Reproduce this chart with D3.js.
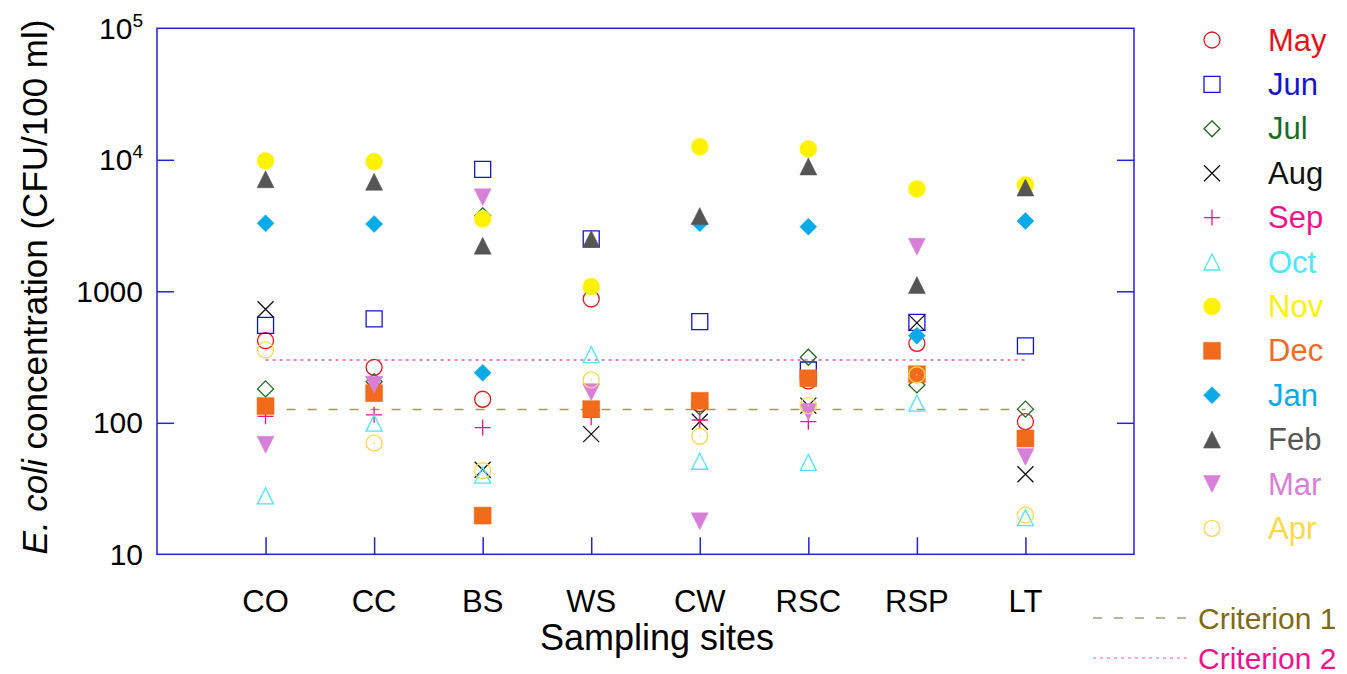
<!DOCTYPE html>
<html>
<head>
<meta charset="utf-8">
<script src="https://cdn.jsdelivr.net/npm/d3@7"></script>
<style>
  body { margin: 0; background: #fff; }
  svg { font-family: Arial, "Liberation Sans", sans-serif; }
</style>
</head>
<body>
<svg id="chart" width="1347" height="674"></svg>
<script>
const sites = ["CO", "CC", "BS", "WS", "CW", "RSC", "RSP", "LT"];
const months = ["May", "Jun", "Jul", "Aug", "Sep", "Oct", "Nov", "Dec", "Jan", "Feb", "Mar", "Apr"];

// E. coli, CFU/100 ml, one value per site (null = no sample)
const may = [421, 264, 151, 874, 140, 208, 402, 102];
const jun = [551, 616, 8470, 2500, 587, 252, 581, 384];
const jul = [181, 205, 3750, 125, 132, 315, 194, 127];
const aug = [730, 195, 44, 82, 102, 135, 575, 40.6];
const sep = [112, 115, 92, 110, 105, 102, 230, 78];
const oct = [27.8, 99.5, 40, 330, 51, 50, 141, 19];
const nov = [9800, 9680, 3545, 1084, 12590, 12080, 6000, 6430];
const dec = [134, 168, 19.7, 127, 147, 218, 234, 76];
const jan = [3290, 3250, 240, null, 3290, 3100, 459, 3425];
const feb = [7110, 6800, 2222, 2500, 3730, 8900, 1115, 6150];
const mar = [68, 195, 5180, 171, 17.8, 121, 2180, 55];
const apr = [358, 70, 43.2, 212, 79, 135, 232, 19.9];

const criteria = [126, 300];
const criteriaLabels = ["Criterion 1", "Criterion 2"];
const yTicks = [10, 100, 1000, 1e4, 1e5];

const series = [may, jun, jul, aug, sep, oct, nov, dec, jan, feb, mar, apr];
const shapes = ["circle", "square", "diamond", "cross", "plus", "triUp",
                "circle", "square", "diamond", "triUp", "triDown", "dotCircle"];
const filled = [false, false, false, false, false, false, true, true, true, true, true, false];
const colors = ["#e8141c", "#1414d2", "#1e6b1e", "#111111", "#f0148c", "#4de6ff",
                "#fff200", "#f26b1d", "#0aaae6", "#555555", "#d880d8", "#ffd84a"];
const critColors = ["#a89a5c", "#f05aa5"];
const critTextColors = ["#806b14", "#f0148c"];
const AXIS = "#2222dd";

const L = 157, R = 1134, T = 28.3, B = 554.3;
const S = 8.5;   // marker half size

const svg = d3.select("#chart");
const x = d3.scalePoint().domain(sites).range([L, R]).padding(1);
const y = d3.scaleLog().domain([10, 1e5]).range([B, T]);

function shapePath(shape, s) {
  switch (shape) {
    case "square": return `M${-s},${-s}H${s}V${s}H${-s}Z`;
    case "diamond": return `M0,${-s}L${s},0L0,${s}L${-s},0Z`;
    case "cross": return `M${-s},${-s}L${s},${s}M${-s},${s}L${s},${-s}`;
    case "plus": return `M${-s},0H${s}M0,${-s}V${s}`;
    case "triUp": return `M0,${-s}L${s},${s}L${-s},${s}Z`;
    case "triDown": return `M${-s},${-s}H${s}L0,${s}Z`;
    default: return `M${s},0A${s},${s} 0 1,1 ${-s},0A${s},${s} 0 1,1 ${s},0Z`;
  }
}

function drawMarker(g, i) {
  const open = !filled[i];
  const s = open ? S - 0.5 : S;
  g.append("path")
    .attr("d", shapePath(shapes[i], s))
    .attr("fill", open ? "none" : colors[i])
    .attr("stroke", colors[i])
    .attr("stroke-width", open ? 1.3 : 0.5);
  if (shapes[i] === "dotCircle") {
    g.append("circle").attr("r", 0.8).attr("fill", colors[i]);
  }
}

// frame
svg.append("rect")
  .attr("x", L).attr("y", T)
  .attr("width", R - L).attr("height", B - T)
  .attr("fill", "none").attr("stroke", AXIS).attr("stroke-width", 1.5);

// ticks, pointing inward
const axisStyle = g => {
  g.select(".domain").remove();
  g.selectAll(".tick line").attr("stroke", AXIS).attr("stroke-width", 1.5);
  g.selectAll(".tick text").remove();
};
svg.append("g").attr("transform", `translate(${L},0)`)
  .call(d3.axisLeft(y).tickValues(yTicks.slice(1, -1)).tickSize(-17))
  .call(axisStyle);
svg.append("g").attr("transform", `translate(${R},0)`)
  .call(d3.axisRight(y).tickValues(yTicks.slice(1, -1)).tickSize(-17))
  .call(axisStyle);
svg.append("g").attr("transform", `translate(0,${B})`)
  .call(d3.axisBottom(x).tickSize(-17))
  .call(axisStyle);

// y tick labels
const yLab = svg.append("g").attr("font-size", 30).attr("text-anchor", "end");
yTicks.forEach(v => {
  const e = Math.round(Math.log10(v));
  const t = yLab.append("text").attr("x", 143).attr("y", y(v) + 10.5);
  if (e >= 4) {
    t.append("tspan").text("10");
    t.append("tspan").attr("font-size", 19).attr("dy", -12).text(e);
  } else {
    t.text(v);
  }
});

// x tick labels
svg.append("g").attr("font-size", 31).attr("text-anchor", "middle")
  .selectAll("text").data(sites).join("text")
  .attr("x", d => x(d)).attr("y", 612)
  .text(d => d);

// axis titles
svg.append("text")
  .attr("x", 657).attr("y", 650)
  .attr("font-size", 36).attr("text-anchor", "middle")
  .text("Sampling sites");

const yt = svg.append("text")
  .attr("transform", "translate(47,287) rotate(-90)")
  .attr("font-size", 35).attr("text-anchor", "middle");
yt.append("tspan").attr("font-style", "italic").text("E. coli");
yt.append("tspan").text(" concentration (CFU/100 ml)");

// criterion lines
const dashes = ["9,12", "3,4"];
criteria.forEach((c, k) => {
  svg.append("line")
    .attr("x1", x(sites[0])).attr("x2", x(sites[sites.length - 1]))
    .attr("y1", y(c)).attr("y2", y(c))
    .attr("stroke", critColors[k]).attr("stroke-width", 1.5)
    .attr("stroke-dasharray", dashes[k]);
});

// points, drawn in legend order
series.forEach((vals, i) => {
  svg.append("g")
    .selectAll("g")
    .data(vals.map((v, j) => ({ site: sites[j], v })).filter(d => d.v !== null))
    .join("g")
    .attr("transform", d => `translate(${x(d.site)},${y(d.v)})`)
    .each(function () { drawMarker(d3.select(this), i); });
});

// month legend
const LEG_Y = 40, LEG_STEP = 44.4;
months.forEach((m, i) => {
  const g = svg.append("g").attr("transform", `translate(1212,${LEG_Y + i * LEG_STEP})`);
  drawMarker(g, i);
  svg.append("text")
    .attr("x", 1268).attr("y", LEG_Y + i * LEG_STEP + 10.5)
    .attr("font-size", 31).attr("fill", colors[i])
    .text(m);
});

// criterion legend
criteriaLabels.forEach((c, k) => {
  const ly = 618 + k * 40;
  svg.append("line")
    .attr("x1", 1093).attr("x2", 1187).attr("y1", ly).attr("y2", ly)
    .attr("stroke", k === 0 ? "#7a6c3a" : critColors[k]).attr("stroke-width", 1.2)
    .attr("stroke-dasharray", k === 0 ? "9,12" : "3,4");
  svg.append("text")
    .attr("x", 1198).attr("y", ly + 10.5)
    .attr("font-size", 30).attr("fill", critTextColors[k])
    .text(c);
});
</script>
</body>
</html>
